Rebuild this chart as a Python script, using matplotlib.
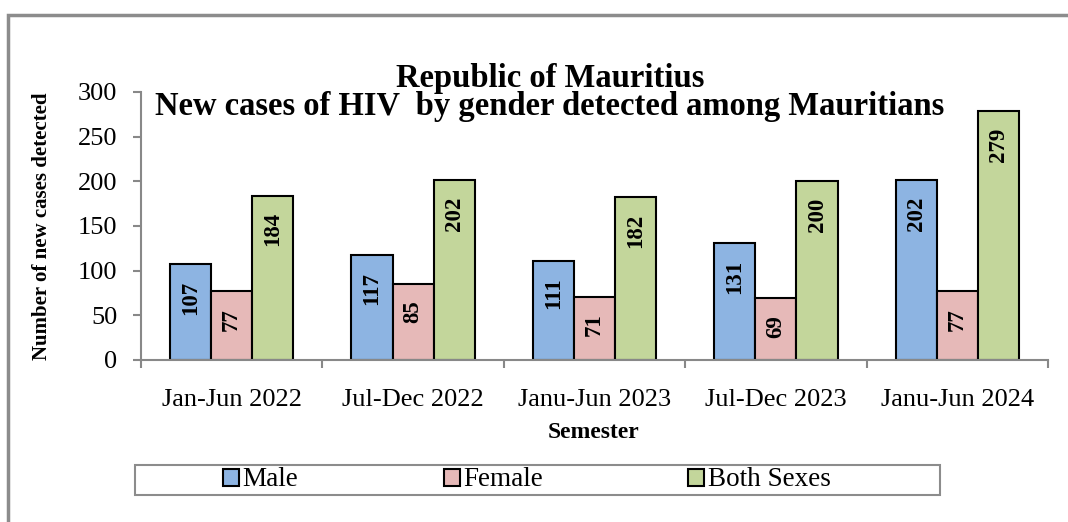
import numpy as np
import matplotlib
matplotlib.use("Agg")
import matplotlib.pyplot as plt
from matplotlib.patches import Rectangle

plt.rcParams['font.family'] = ['Liberation Serif', 'DejaVu Serif']

semesters = ["Jan-Jun 2022", "Jul-Dec 2022", "Janu-Jun 2023", "Jul-Dec 2023", "Janu-Jun 2024"]
male = [107, 117, 111, 131, 202]
female = [77, 85, 71, 69, 77]
both = [184, 202, 182, 200, 279]

series = [("Male", male, "#8DB4E2"), ("Female", female, "#E6B9B8"), ("Both Sexes", both, "#C3D69B")]

fig = plt.figure(figsize=(10.68, 5.22), dpi=100)
ax = fig.add_axes([141/1068, 1-360/522, 907/1068, 268/522])

x = np.arange(len(semesters))
w = 0.227
handles = []
for k, (name, vals, col) in enumerate(series):
    pos = x + (k - 1) * w
    b = ax.bar(pos, vals, w, color=col, edgecolor="black", linewidth=1.5, label=name)
    handles.append(b)
    for xi, v in zip(pos, vals):
        ax.annotate(str(v), (xi, v), xytext=(0, -12), textcoords="offset points",
                    rotation=90, ha="center", va="top", fontsize=16.5, fontweight="bold")

ax.set_xlim(-0.5, len(semesters) - 0.5)
ax.set_ylim(0, 300)
ax.set_yticks(range(0, 301, 50))
ax.set_xticks(x)
ax.set_xticklabels(semesters)
ax.set_xticks(np.arange(-0.5, len(semesters)), minor=True)
ax.tick_params(axis="x", which="major", length=0, pad=21, labelsize=19)
ax.tick_params(axis="x", which="minor", length=6, width=1.5, color="#888888", direction="out")
ax.tick_params(axis="y", length=6, width=1.5, color="#888888", direction="out", pad=11, labelsize=19)
for s in ["top", "right"]:
    ax.spines[s].set_visible(False)
for s in ["left", "bottom"]:
    ax.spines[s].set_color("#888888")
    ax.spines[s].set_linewidth(1.5)

fig.text(0.515, 1-78/522, "Republic of Mauritius", ha="center", va="center",
         fontsize=23.5, fontweight="bold")
fig.text(0.515, 1-107/522, "New cases of HIV  by gender detected among Mauritians", ha="center", va="center",
         fontsize=23.5, fontweight="bold")
fig.text(42/1068, 1-226/522, "Number of new cases detected", rotation=90, ha="center", va="center",
         fontsize=15, fontweight="bold")
fig.text(594/1068, 1-432/522, "Semester", ha="center", va="center", fontsize=17, fontweight="bold")

# outer chart border
fig.patches.append(Rectangle((8/1068, -0.05), 1.2, 1-15/522+0.05, transform=fig.transFigure,
                             fill=False, edgecolor="#8c8c8c", linewidth=2.5))
# legend frame
fig.patches.append(Rectangle((135/1068, 1-495/522), 805/1068, 30/522, transform=fig.transFigure,
                             fill=False, edgecolor="#8c8c8c", linewidth=1.5))
leg = fig.legend(handles, [s[0] for s in series], loc="center", bbox_to_anchor=(527/1068, 1-480/522),
                 ncol=3, frameon=False, fontsize=19,
                 handlelength=0.6, handleheight=0.6,
                 handletextpad=0.15, columnspacing=5.5, borderpad=0)
for t in leg.get_texts():
    t.set_fontfamily("Liberation Serif")
    t.set_fontsize(19.5)

fig.savefig("out.png", dpi=100)
